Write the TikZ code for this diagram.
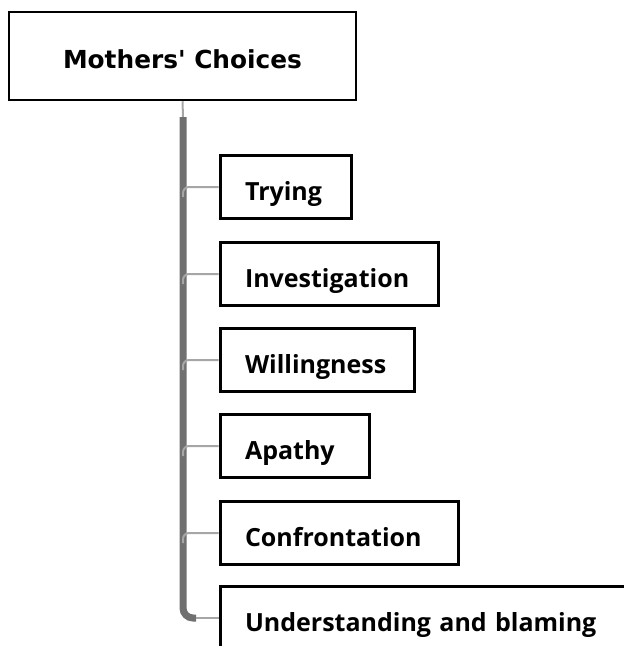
\documentclass[tikz,border=0pt]{standalone}
\usepackage{fontspec}
\setmainfont{Open Sans}
\newfontfamily\titlefont{DejaVu Sans}
\definecolor{trunkgray}{HTML}{707070}
\definecolor{twiggray}{HTML}{A6A6A6}
\begin{document}
\begin{tikzpicture}[x=1pt,y=-1pt,
  titlebox/.style={draw=black,line width=2.5pt,fill=white,minimum width=347pt,
    minimum height=88pt,inner sep=0pt,text height=24pt,text depth=0pt,
    font=\titlefont\bfseries\fontsize{24.8}{28}\selectfont},
  itembox/.style={draw=black,line width=3pt,fill=white,anchor=west,minimum height=63pt,
    inner xsep=25pt,inner ysep=2pt,text height=26pt,text depth=0pt,align=left,
    font=\bfseries\fontsize{25}{30}\selectfont},
  trunk/.style={draw=trunkgray,line width=7pt},
  twig/.style={draw=twiggray,line width=2pt,rounded corners=6pt}]
\useasboundingbox (0,0) rectangle (624,646);
\clip (0,0) rectangle (624,646);

% root and its children
\node[titlebox] (title) at (182.5,56) {Mothers' Choices};
\node[itembox,text width=81pt]  (c1) at (218.5,187) {Trying};
\node[itembox,text width=168.5pt] (c2) at (218.5,274) {Investigation};
\node[itembox,text width=144.5pt] (c3) at (218.5,360) {Willingness};
\node[itembox,text width=99.5pt]  (c4) at (218.5,446) {Apathy};
\node[itembox,text width=188.5pt] (c5) at (218.5,533) {Confrontation};
\node[itembox,text width=420pt]   (c6) at (218.5,618) {Understanding and blaming};

% trunk below the root
\coordinate (ttop) at (183,117);
\draw[twig] (title.south) -- (ttop);
\draw[trunk,rounded corners=10pt] (ttop) -- (183,618) -- (196,618);
\draw[twig] (196,618) -- (c6.west);

% branches to each child
\foreach \c in {c1,c2,c3,c4,c5}
  \draw[twig] ([yshift=-10pt]\c.west -| ttop) |- (\c.west);
\end{tikzpicture}
\end{document}
